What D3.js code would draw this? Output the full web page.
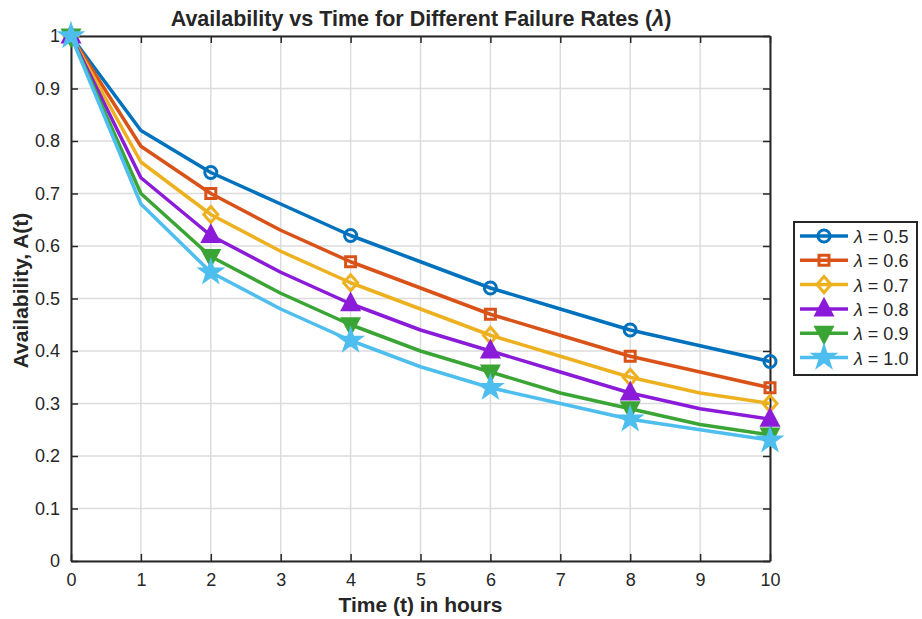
<!DOCTYPE html>
<html>
<head>
<meta charset="utf-8">
<script src="https://cdn.jsdelivr.net/npm/d3@7"></script>
<style>
  body { margin: 0; background: #fff; }
  svg { font-family: "Liberation Sans", Arial, sans-serif; }
</style>
</head>
<body>
<svg id="chart" width="922" height="619"></svg>
<script>
// Data
const times = [0, 1, 2, 3, 4, 5, 6, 7, 8, 9, 10];
const lambdas = ["0.5", "0.6", "0.7", "0.8", "0.9", "1.0"];
const avail05 = [1.0, 0.82, 0.74, 0.68, 0.62, 0.57, 0.52, 0.48, 0.44, 0.41, 0.38];
const avail06 = [1.0, 0.79, 0.70, 0.63, 0.57, 0.52, 0.47, 0.43, 0.39, 0.36, 0.33];
const avail07 = [1.0, 0.76, 0.66, 0.59, 0.53, 0.48, 0.43, 0.39, 0.35, 0.32, 0.30];
const avail08 = [1.0, 0.73, 0.62, 0.55, 0.49, 0.44, 0.40, 0.36, 0.32, 0.29, 0.27];
const avail09 = [1.0, 0.70, 0.58, 0.51, 0.45, 0.40, 0.36, 0.32, 0.29, 0.26, 0.24];
const avail10 = [1.0, 0.68, 0.55, 0.48, 0.42, 0.37, 0.33, 0.30, 0.27, 0.25, 0.23];
const xTicks = [0, 1, 2, 3, 4, 5, 6, 7, 8, 9, 10];
const yTicks = [0, 0.1, 0.2, 0.3, 0.4, 0.5, 0.6, 0.7, 0.8, 0.9, 1];

const allSeries = [avail05, avail06, avail07, avail08, avail09, avail10];
const colors = ["#0072BD", "#D95319", "#EDB120", "#8B1BD9", "#3AA534", "#4DBEEE"];
const shapes = ["circle", "square", "diamond", "up", "down", "star"];

const svg = d3.select("#chart");
const margin = {top: 36, right: 152, bottom: 58, left: 71};
const width = 922 - margin.left - margin.right;
const height = 619 - margin.top - margin.bottom;
const g = svg.append("g").attr("transform", `translate(${margin.left},${margin.top})`);

const x = d3.scaleLinear().domain([0, 10]).range([0, width]);
const y = d3.scaleLinear().domain([0, 1]).range([height, 0]);

// grid
g.append("g").selectAll("line").data(xTicks).join("line")
  .attr("x1", d => x(d)).attr("x2", d => x(d))
  .attr("y1", 0).attr("y2", height)
  .attr("stroke", "#dcdcdc").attr("stroke-width", 1.5);
g.append("g").selectAll("line").data(yTicks).join("line")
  .attr("x1", 0).attr("x2", width)
  .attr("y1", d => y(d)).attr("y2", d => y(d))
  .attr("stroke", "#dcdcdc").attr("stroke-width", 1.5);

// axes (ticks inward)
const fmt = d => d === 0 || d === 1 ? String(d) : d3.format(".1f")(d);
g.append("g").attr("transform", `translate(0,${height})`)
  .call(d3.axisBottom(x).tickValues(xTicks).tickSizeInner(-7).tickSizeOuter(0).tickPadding(12).tickFormat(d3.format("d")));
g.append("g")
  .call(d3.axisLeft(y).tickValues(yTicks).tickSizeInner(-7).tickSizeOuter(0).tickPadding(11).tickFormat(fmt));
g.append("g").call(d3.axisTop(x).tickValues(xTicks).tickSizeInner(-7).tickSizeOuter(0).tickFormat(""));
g.append("g").attr("transform", `translate(${width},0)`)
  .call(d3.axisRight(y).tickValues(yTicks).tickSizeInner(-7).tickSizeOuter(0).tickFormat(""));
g.selectAll(".domain").attr("stroke", "#262626").attr("stroke-width", 2);
g.selectAll(".tick line").attr("stroke", "#262626").attr("stroke-width", 1.5);
g.selectAll(".tick text").attr("fill", "#262626").style("font-size", "18px");

// markers
function markerPath(shape) {
  switch (shape) {
    case "circle": return d3.symbol(d3.symbolCircle, Math.PI * 6 * 6)();
    case "square": return "M-5,-5H5V5H-5Z";
    case "diamond": return "M0,-8L7,0L0,8L-7,0Z";
    case "up": return "M0,-9L8,6H-8Z";
    case "down": return "M0,9L8,-6H-8Z";
    case "star": return d3.symbol(d3.symbolStar, 120)();
  }
}
const filled = {circle: false, square: false, diamond: false, up: true, down: true, star: true};

const line = d3.line().x((d, i) => x(times[i])).y(d => y(d));

allSeries.forEach((vals, k) => {
  g.append("path").datum(vals)
    .attr("d", line)
    .attr("fill", "none")
    .attr("stroke", colors[k])
    .attr("stroke-width", 3.5)
    .attr("stroke-linejoin", "round");
  const pts = vals.map((v, i) => [times[i], v]).filter(d => d[0] % 2 === 0);
  g.append("g").selectAll("path").data(pts).join("path")
    .attr("transform", d => `translate(${x(d[0])},${y(d[1])})`)
    .attr("d", markerPath(shapes[k]))
    .attr("fill", filled[shapes[k]] ? colors[k] : "none")
    .attr("stroke", colors[k])
    .attr("stroke-width", 3);
});

// title and labels
const title = svg.append("text").attr("x", 421).attr("y", 26)
  .attr("text-anchor", "middle").attr("fill", "#262626")
  .style("font-size", "21.5px").style("font-weight", "bold");
title.append("tspan").text("Availability vs Time for Different Failure Rates (");
title.append("tspan").style("font-style", "italic").text("λ");
title.append("tspan").text(")");
svg.append("text").attr("x", margin.left + width / 2).attr("y", 612)
  .attr("text-anchor", "middle").attr("fill", "#262626")
  .style("font-size", "21px").style("font-weight", "bold")
  .text("Time (t) in hours");
svg.append("text")
  .attr("transform", `translate(28,${margin.top + height / 2 - 8}) rotate(-90)`)
  .attr("text-anchor", "middle").attr("fill", "#262626")
  .style("font-size", "21px").style("font-weight", "bold")
  .text("Availability, A(t)");

// legend
const lg = svg.append("g").attr("transform", "translate(794,222)");
lg.append("rect").attr("width", 123).attr("height", 153)
  .attr("fill", "#fff").attr("stroke", "#262626").attr("stroke-width", 2);
lambdas.forEach((lam, k) => {
  const yy = 14 + k * 24.3;
  lg.append("line").attr("x1", 6).attr("x2", 54).attr("y1", yy).attr("y2", yy)
    .attr("stroke", colors[k]).attr("stroke-width", 3.5);
  lg.append("path").attr("transform", `translate(30,${yy})`)
    .attr("d", markerPath(shapes[k]))
    .attr("fill", filled[shapes[k]] ? colors[k] : "none")
    .attr("stroke", colors[k]).attr("stroke-width", 3);
  const t = lg.append("text").attr("x", 60).attr("y", yy + 7)
    .attr("fill", "#262626").style("font-size", "18px");
  t.append("tspan").style("font-style", "italic").text("λ");
  t.append("tspan").text(` = ${lam}`);
});
</script>
</body>
</html>
